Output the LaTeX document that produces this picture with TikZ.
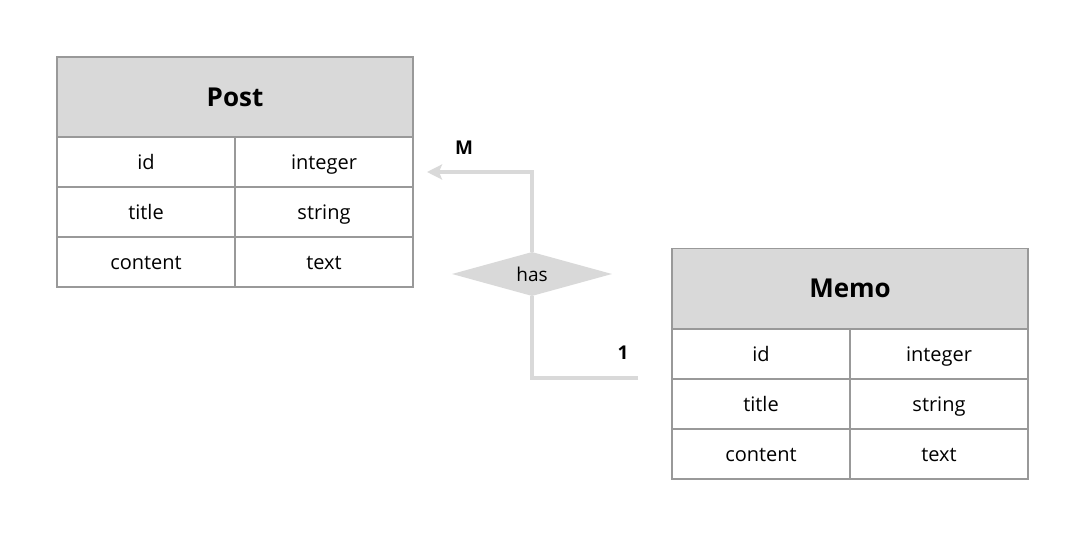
\documentclass[tikz,border=0pt]{standalone}
\usepackage{fontspec}
\setmainfont{Open Sans}
\usetikzlibrary{shapes.geometric,arrows.meta}
\definecolor{hdgray}{HTML}{D9D9D9}
\definecolor{bordergray}{HTML}{999999}
\tikzset{
  cell/.style={draw=bordergray, line width=1.5pt, rectangle, minimum width=178pt, minimum height=50pt, inner sep=0pt, text height=15pt, text depth=0pt, font=\fontsize{20}{24}\selectfont},
  head/.style={cell, fill=hdgray, minimum width=356pt, minimum height=80pt, text height=19pt, text depth=0pt, font=\fontsize{26}{30}\selectfont\bfseries},
  conn/.style={draw=hdgray, line width=4pt},
  card/.style={font=\fontsize{19}{23}\selectfont\bfseries}
}
\begin{document}
\begin{tikzpicture}[x=1pt,y=-1pt]
\useasboundingbox (0,0) rectangle (1092,534);
% Post table
\node[head] (post) at (235,97) {Post};
\node[cell] (postid) at (146,162) {id};
\node[cell] (postidt) at (324,162) {integer};
\node[cell] (posttitle) at (146,212) {title};
\node[cell] (posttitlet) at (324,212) {string};
\node[cell] (postcontent) at (146,262) {content};
\node[cell] (postcontentt) at (324,262) {text};
% Memo table
\node[head] (memo) at (850,288.5) {Memo};
\node[cell] (memoid) at (761,354) {id};
\node[cell] (memoidt) at (939,354) {integer};
\node[cell] (memotitle) at (761,404) {title};
\node[cell] (memotitlet) at (939,404) {string};
\node[cell] (memocontent) at (761,454) {content};
\node[cell] (memocontentt) at (939,454) {text};
% relation
\node[diamond, fill=hdgray, minimum width=160pt, minimum height=44pt, inner sep=0pt, aspect=3.6, font=\fontsize{19}{22}\selectfont] (has) at (532,274) {has};
\coordinate (mtip) at (427,172);
\coordinate (oneend) at (638,378);
\draw[conn] (oneend) -| (has.south);
\draw[conn, -{Stealth[length=15pt,width=15pt,inset=3pt]}] (has.north) |- (mtip);
\node[card] (mlab) at (464,148) {M};
\node[card] (onelab) at (623,353) {1};
\end{tikzpicture}
\end{document}
